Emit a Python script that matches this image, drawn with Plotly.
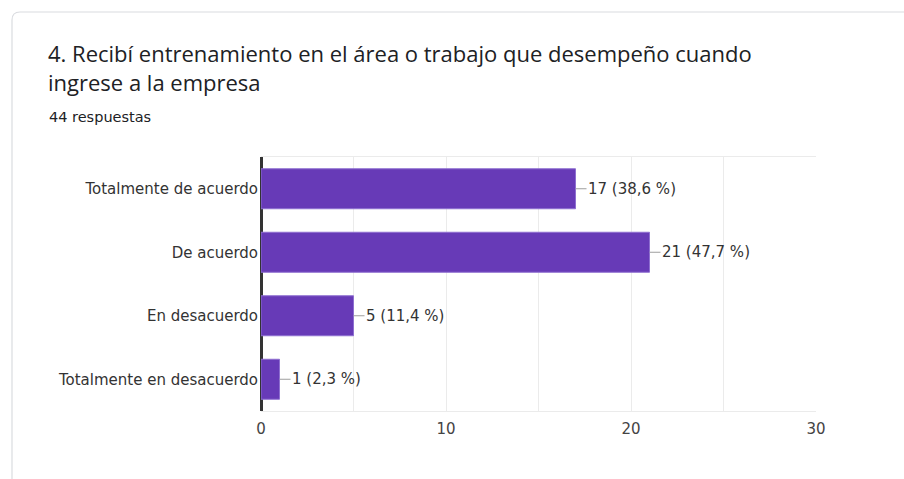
import plotly.graph_objects as go

# Survey responses
categories = ["Totalmente de acuerdo", "De acuerdo", "En desacuerdo", "Totalmente en desacuerdo"]
counts = [17, 21, 5, 1]
percents = ["38,6", "47,7", "11,4", "2,3"]
x_ticks = [0, 10, 20, 30]

W, H = 904, 479
L, R, T, B = 261, 88, 157, 68
PW, PH = W - L - R, H - T - B


def px(x):
    return (x - L) / PW


def py(y):
    return (H - B - y) / PH


BAR = "#673ab7"
TXT = "#333333"
LABEL_FONT = dict(family="DejaVu Sans", size=15, color=TXT)

fig = go.Figure(
    go.Bar(
        y=categories,
        x=counts,
        orientation="h",
        marker=dict(color=BAR, line=dict(color="#8e6fd0", width=1)),
        hoverinfo="skip",
    )
)

# value labels with short leader lines
for cat, n, p in zip(categories, counts, percents):
    fig.add_annotation(
        x=n, y=cat, xref="x", yref="y",
        text=f"{n} ({p} %)",
        showarrow=True, arrowhead=0, arrowwidth=1.2, arrowcolor="#9e9e9e",
        ax=11, ay=0, xanchor="left", borderpad=0,
        font=LABEL_FONT,
    )

# card outline with rounded top-left corner
rx, ry = 8 / PW, 8 / PH
x0, y0 = px(12), py(12)
x1, y1 = px(W + 20), py(H + 20)
fig.add_shape(
    type="path", xref="paper", yref="paper",
    path=(f"M {x0},{y1} L {x0},{y0 - ry} Q {x0},{y0} {x0 + rx},{y0} "
          f"L {x1},{y0}"),
    line=dict(color="#dadce0", width=1.2), layer="below",
)

fig.add_annotation(
    xref="paper", yref="paper", x=px(46), y=py(36),
    xanchor="left", yanchor="top", align="left", showarrow=False,
    text="4. Recibí entrenamiento en el área o trabajo que desempeño cuando<br>ingrese a la empresa",
    font=dict(family="Open Sans", size=22, color="#202124"),
)
fig.add_annotation(
    xref="paper", yref="paper", x=px(47), y=py(117),
    xanchor="left", yanchor="middle", showarrow=False,
    text="44 respuestas",
    font=dict(family="DejaVu Sans", size=14.5, color="#202124"),
)

fig.update_layout(
    width=W, height=H,
    margin=dict(l=L, r=R, t=T, b=B),
    paper_bgcolor="white", plot_bgcolor="white",
    showlegend=False, bargap=0.37,
    xaxis=dict(
        range=[0, 30], tickvals=x_ticks, ticktext=[str(v) for v in x_ticks],
        showgrid=True, gridcolor="#ebebeb", gridwidth=1,
        minor=dict(dtick=5, showgrid=True, gridcolor="#ebebeb", gridwidth=1),
        zeroline=True, zerolinecolor="#333333", zerolinewidth=3,
        showline=True, mirror=True, linecolor="#ebebeb", linewidth=1,
        tickfont=dict(family="DejaVu Sans", size=15, color="#444444"),
        ticks="", ticklabelstandoff=4, fixedrange=True,
    ),
    yaxis=dict(
        autorange="reversed", showgrid=False, zeroline=False, showline=False,
        tickfont=LABEL_FONT, ticks="", ticklabelstandoff=2, fixedrange=True,
    ),
)

fig.write_html("out.html")
